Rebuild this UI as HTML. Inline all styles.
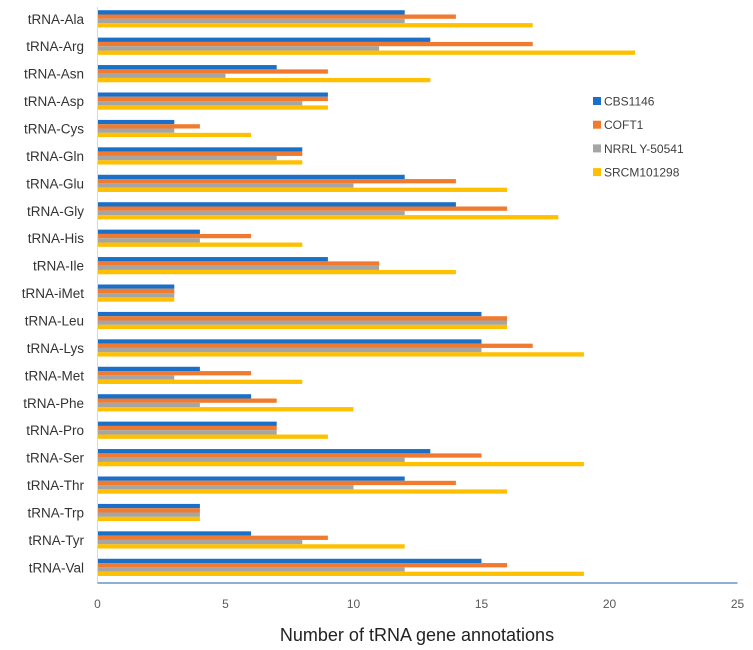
<!DOCTYPE html>
<html><head><meta charset="utf-8"><style>
body{margin:0;background:#fff;}
svg{display:block;font-family:"Liberation Sans",sans-serif;}
</style></head><body>
<svg id="chart" width="753" height="650"></svg>
<script>
const categories=["tRNA-Ala","tRNA-Arg","tRNA-Asn","tRNA-Asp","tRNA-Cys","tRNA-Gln","tRNA-Glu","tRNA-Gly","tRNA-His","tRNA-Ile","tRNA-iMet","tRNA-Leu","tRNA-Lys","tRNA-Met","tRNA-Phe","tRNA-Pro","tRNA-Ser","tRNA-Thr","tRNA-Trp","tRNA-Tyr","tRNA-Val"];
const seriesNames=["CBS1146","COFT1","NRRL Y-50541","SRCM101298"];
const cbs1146=[12,13,7,9,3,8,12,14,4,9,3,15,15,4,6,7,13,12,4,6,15];
const coft1=[14,17,9,9,4,8,14,16,6,11,3,16,17,6,7,7,15,14,4,9,16];
const nrrl=[12,11,5,8,3,7,10,12,4,11,3,16,15,3,4,7,12,10,4,8,12];
const srcm=[17,21,13,9,6,8,16,18,8,14,3,16,19,8,10,9,19,16,4,12,19];
const ticks=[0,5,10,15,20,25];
const colors=["#1a6fc9","#f07b2f","#a5a5a5","#ffc000"];
const NS="http://www.w3.org/2000/svg";
const svg=document.getElementById("chart");
const x0=97.5,x1=737.5,yTop=7,yBot=583;
const xs=v=>x0+(v/25)*(x1-x0);
const band=(yBot-yTop)/categories.length;
const barH=4.3;
function mk(tag,attrs){const e=document.createElementNS(NS,tag);for(const k in attrs)e.setAttribute(k,attrs[k]);svg.appendChild(e);return e;}
const series=[cbs1146,coft1,nrrl,srcm];
categories.forEach((c,i)=>{
  const gy=yTop+i*band+3.2;
  series.forEach((s,j)=>{
    const r=mk("rect",{x:x0,y:gy+j*barH,width:xs(s[i])-x0,height:barH,fill:colors[j]});
    
    
  });
  const t=mk("text",{x:84,y:gy+2*barH+5,"text-anchor":"end","font-size":"13.5",fill:"#333"});
  t.textContent=c;
  
  
});
const yl=mk("line",{x1:x0,y1:yTop,x2:x0,y2:yBot,stroke:"#d9d9d9","stroke-width":1});


const xl=mk("line",{x1:x0,y1:yBot,x2:x1,y2:yBot,stroke:"#4a7ebb","stroke-width":1.3});


ticks.forEach(v=>{
  const t=mk("text",{x:xs(v),y:608,"text-anchor":"middle","font-size":"12",fill:"#595959"});
  t.textContent=v;
  
  
});
const title=mk("text",{x:417,y:641,"text-anchor":"middle","font-size":"18",fill:"#222"});
title.textContent="Number of tRNA gene annotations";


seriesNames.forEach((n,j)=>{
  const y=101+j*23.7;
  const r=mk("rect",{x:593,y:y-4,width:8,height:8,fill:colors[j]});
  
  
  const t=mk("text",{x:604,y:y+4.5,"font-size":"12",fill:"#404040"});
  t.textContent=n;
  
  
});
</script>
</body></html>
